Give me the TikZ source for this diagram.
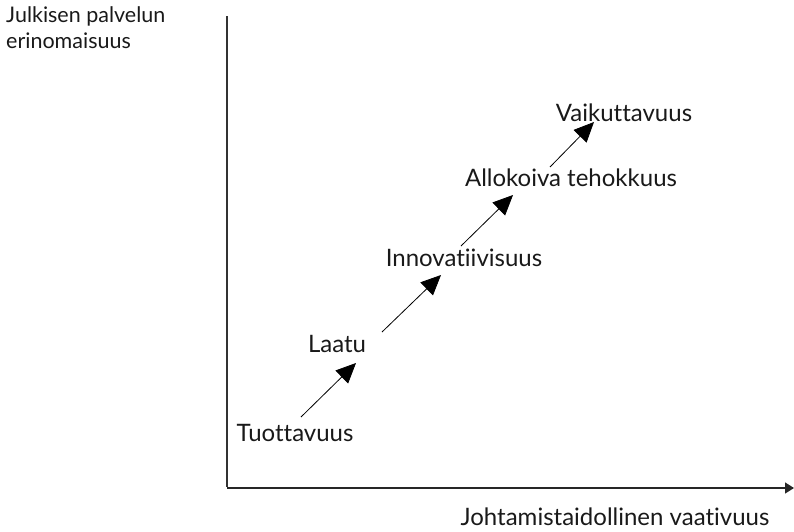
\documentclass[tikz,border=0pt]{standalone}
\usepackage{fontspec}
\setmainfont[Ligatures=NoCommon]{Lato}
\usetikzlibrary{arrows.meta}
\begin{document}
\begin{tikzpicture}[x=1pt,y=-1pt,
  lbl/.style={inner sep=0pt, font=\fontsize{24}{28}\selectfont, text=black!90},
  axis/.style={line width=1.6pt, draw=black!80},
  stepar/.style={line width=0.8pt, -{Triangle[length=20pt,width=18pt]}}]
\useasboundingbox (0,0) rectangle (794,531);
% axes
\coordinate (o) at (227,488);
\coordinate (ytop) at (227,16);
\coordinate (xend) at (794,488);
\draw[axis] (ytop) -- (227,487);
\draw[line width=1.3pt, draw=black!85, -{Triangle[length=9pt,width=11pt]}] (o) -- (xend);
% axis labels
\node[lbl, font=\fontsize{21.5}{26}\selectfont, anchor=west, align=left] (ylab) at (6,28) {Julkisen palvelun\\erinomaisuus};
\node[lbl] (xlab) at (615,517) {Johtamistaidollinen vaativuus};
% steps
\node[lbl] (tuo) at (295,433) {Tuottavuus};
\node[lbl] (laa) at (337,344) {Laatu};
\node[lbl] (inn) at (464,258) {Innovatiivisuus};
\node[lbl] (all) at (571,178) {Allokoiva tehokkuus};
\node[lbl] (vai) at (624,113) {Vaikuttavuus};
% arrow ends
\coordinate (a1s) at (301,417); \coordinate (a1e) at (356,363);
\coordinate (a2s) at (382,332); \coordinate (a2e) at (441,275);
\coordinate (a3s) at (461,246); \coordinate (a3e) at (513,195);
\coordinate (a4s) at (550,167); \coordinate (a4e) at (594,122);
\draw[stepar] (a1s) -- (a1e);
\draw[stepar] (a2s) -- (a2e);
\draw[stepar] (a3s) -- (a3e);
\draw[stepar] (a4s) -- (a4e);
\end{tikzpicture}
\end{document}
